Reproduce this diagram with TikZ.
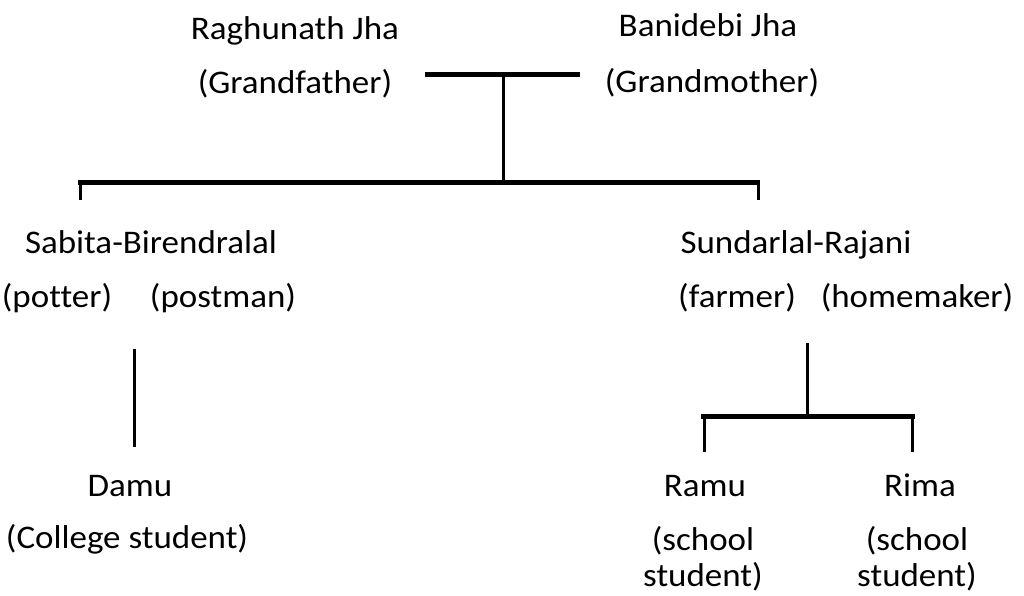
\documentclass[tikz,border=0pt]{standalone}
\usepackage{fontspec}
\setmainfont{Carlito}[FakeStretch=1.06, Ligatures=NoCommon]
\usepackage{tikz}
\tikzset{person/.style={anchor=base, inner sep=0pt, font=\fontsize{33}{38}\selectfont}}
\tikzset{bar/.style={line width=5pt}}

\begin{document}
\begin{tikzpicture}[x=1pt, y=-1pt, line width=3pt]
    \useasboundingbox (0, 0) rectangle (1024, 595);
    % grandparents
    \node[person](gf) at (295, 39){Raghunath Jha};
    \node[person](gfrole) at (295, 93){(Grandfather)};
    \node[person](gm) at (708, 36){Banidebi Jha};
    \node[person](gmrole) at (712, 92){(Grandmother)};
    \coordinate (wedL) at (425, 74);
    \coordinate (wedR) at (580, 74);
    \coordinate (wedM) at (503, 74);
    \draw[bar](wedL)--(wedR);
    \coordinate (kidsM) at (503, 182);
    \coordinate (kidsL) at (78, 182);
    \coordinate (kidsR) at (760, 182);
    \draw(wedM)--(kidsM);
    \draw[bar](kidsL)--(kidsR);
    \draw([xshift=2pt]kidsL)--++(0, 18);
    \draw([xshift=-2pt]kidsR)--++(0, 18);
    % children
    \node[person](sabita) at (151, 253){Sabita-Birendralal};
    \node[person](potter) at (57, 307){(potter)};
    \node[person](postman) at (223, 307){(postman)};
    \node[person](sundar) at (796, 253){Sundarlal-Rajani};
    \node[person](farmer) at (737, 307){(farmer)};
    \node[person](homemaker) at (917, 307){(homemaker)};
    % grandchildren
    \coordinate (damuT) at (134, 349);
    \coordinate (damuB) at (134, 447);
    \draw(damuT)--(damuB);
    \node[person](damu) at (130, 496){Damu};
    \node[person](damurole) at (127, 548){(College student)};
    \coordinate (sunT) at (807, 343);
    \coordinate (sunM) at (807, 416);
    \coordinate (sunL) at (701, 416);
    \coordinate (sunR) at (915, 416);
    \draw(sunT)--(sunM);
    \draw[bar](sunL)--(sunR);
    \draw([xshift=3pt]sunL)--++(0, 36);
    \draw([xshift=-3pt]sunR)--++(0, 36);
    \node[person](ramu) at (705, 496){Ramu};
    \node[person](ramurole) at (703, 550){(school};
    \node[person](ramurole2) at (703, 586){student)};
    \node[person](rima) at (920, 496){Rima};
    \node[person](rimarole) at (917, 550){(school};
    \node[person](rimarole2) at (917, 586){student)};
\end{tikzpicture}
\end{document}
